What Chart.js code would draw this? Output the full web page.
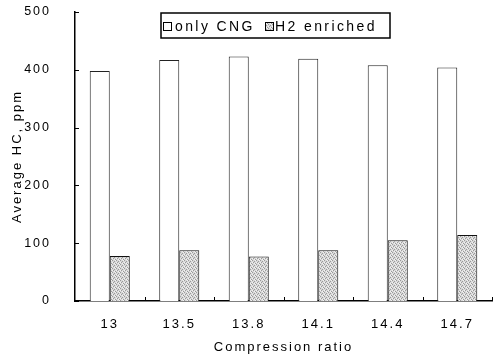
<!DOCTYPE html>
<html>
<head>
<meta charset="utf-8">
<script src="https://cdn.jsdelivr.net/npm/chart.js@4.4.0/dist/chart.umd.min.js"></script>
<style>
  html, body { margin: 0; padding: 0; background: #fff; }
  #wrap { width: 497px; height: 359px; }
</style>
</head>
<body>
<div id="wrap"><canvas id="myChart" width="497" height="359"></canvas></div>
<script>
// data
const ratios = ['13', '13.5', '13.8', '14.1', '14.4', '14.7'];
const onlyCNG = [398, 417, 423, 419, 408, 404];
const h2Enriched = [78, 88, 77, 88, 105, 114];
const yTicks = [0, 100, 200, 300, 400, 500];

const FONT = '"Liberation Sans", Arial, sans-serif';

// stipple fill for the H2 bars
function makeStipple() {
  const c = document.createElement('canvas');
  c.width = 4; c.height = 4;
  const g = c.getContext('2d');
  g.fillStyle = '#d8d8d8';
  g.fillRect(0, 0, 4, 4);
  g.fillStyle = '#9a9a9a';
  [[0, 0], [2, 1], [1, 2], [3, 3]].forEach(p => g.fillRect(p[0], p[1], 1, 1));
  g.fillStyle = '#f2f2f2';
  [[2, 3], [0, 2], [3, 0]].forEach(p => g.fillRect(p[0], p[1], 1, 1));
  return g.createPattern(c, 'repeat');
}

const ctx = document.getElementById('myChart').getContext('2d');
const stipple = makeStipple();

// wide letter spacing like the scanned figure
const spacing = {
  id: 'spacing',
  beforeUpdate(chart) { chart.ctx.letterSpacing = '2px'; },
  beforeDraw(chart) { chart.ctx.letterSpacing = '2px'; }
};

// inward tick marks + legend box
const decor = {
  id: 'decor',
  afterDraw(chart) {
    const c = chart.ctx;
    const y = chart.scales.y;
    const area = chart.chartArea;
    c.save();
    c.strokeStyle = '#000';
    c.lineWidth = 1;
    c.beginPath();
    yTicks.forEach(v => {
      const py = Math.round(y.getPixelForValue(v)) + 0.5;
      c.moveTo(area.left, py); c.lineTo(area.left + 4, py);
    });
    for (let i = 1; i <= ratios.length; i++) {
      const px = Math.round(area.left + (area.right - area.left) * i / ratios.length) + 0.5;
      c.moveTo(px, area.bottom); c.lineTo(px, area.bottom - 4);
    }
    c.stroke();

    // legend
    const lx = 161, ly = 13, lw = 229, lh = 25;
    c.fillStyle = '#fff';
    c.fillRect(lx, ly, lw, lh);
    c.lineWidth = 1.5;
    c.strokeRect(lx, ly, lw, lh);
    c.lineWidth = 1;
    c.strokeRect(163.5, 22.5, 8, 8);
    c.fillStyle = stipple;
    c.fillRect(265, 22, 9, 9);
    c.strokeRect(265.5, 22.5, 8, 8);
    c.fillStyle = '#000';
    c.font = '14px ' + FONT;
    c.letterSpacing = '2.4px';
    c.textBaseline = 'middle';
    c.fillText('only CNG', 175, 27);
    c.fillText('H2 enriched', 275, 27);
    c.restore();
  }
};

new Chart(ctx, {
  type: 'bar',
  data: {
    labels: ratios,
    datasets: [{
      label: 'only CNG',
      data: onlyCNG,
      backgroundColor: '#ffffff',
      borderColor: '#222',
      borderWidth: 1,
      categoryPercentage: 0.576,
      barPercentage: 1
    }, {
      label: 'H2 enriched',
      data: h2Enriched,
      backgroundColor: stipple,
      borderColor: '#111',
      borderWidth: 1,
      categoryPercentage: 0.576,
      barPercentage: 1
    }]
  },
  options: {
    responsive: false,
    animation: false,
    layout: { padding: { top: 12, right: 5, left: 0, bottom: 0 } },
    plugins: { legend: { display: false }, tooltip: { enabled: false } },
    scales: {
      x: {
        grid: { display: false },
        border: { color: '#000', width: 1.5 },
        ticks: { color: '#000', font: { family: FONT, size: 13 }, padding: 8 },
        title: { display: true, text: 'Compression ratio', color: '#000', font: { family: FONT, size: 13 }, padding: { top: 6 } },
        afterFit(scale) { scale.height = 58; }
      },
      y: {
        min: 0,
        max: 500,
        grid: { display: false },
        border: { color: '#000', width: 1.5 },
        ticks: { stepSize: 100, color: '#000', font: { family: FONT, size: 12.5 }, padding: 16 },
        title: { display: true, text: 'Average HC, ppm', color: '#000', font: { family: FONT, size: 13 }, padding: { top: 10, bottom: 4 } },
        afterFit(scale) {
          scale.width = 75;
          scale.paddingTop = 0;
          scale.paddingBottom = 0;
        }
      }
    }
  },
  plugins: [spacing, decor]
});
</script>
</body>
</html>
